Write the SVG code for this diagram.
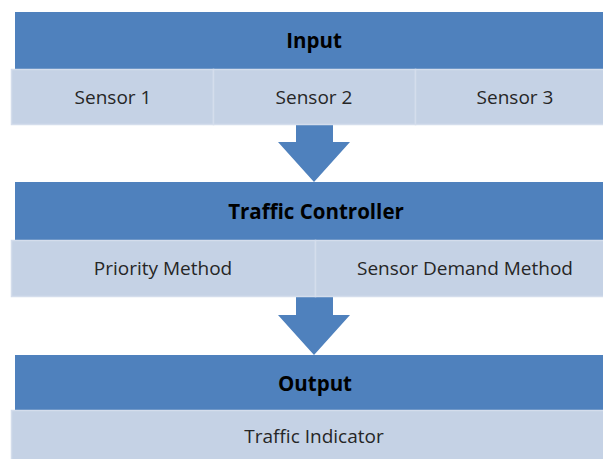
<svg xmlns="http://www.w3.org/2000/svg" width="603" height="459" viewBox="0 0 603 459">
<style>
.hdr{fill:#4F81BD}
.sub{fill:#C5D2E5;stroke:#D4DDEC;stroke-width:1.5}
.arrow{fill:#4F81BD}
.ht{font-family:"Open Sans","Liberation Sans",sans-serif;font-weight:bold;font-size:20.5px;fill:#000;text-anchor:middle}
.st{font-family:"Open Sans","Liberation Sans",sans-serif;font-size:19px;fill:#262626;text-anchor:middle}
</style>
<rect width="603" height="459" fill="#fff"/>
<g id="connectors">
<path class="arrow" d="M296,125 H333 V142 H350 L314,182 L278,142 H296 Z"/>
<path class="arrow" d="M296,297 H333 V315 H350 L314,355 L278,315 H296 Z"/>
</g>
<g id="input">
<rect class="hdr" x="15" y="12" width="588" height="57"/>
<text class="ht" x="314" y="48">Input</text>
</g>
<g id="sensor1"><rect class="sub" x="11.5" y="69.5" width="202" height="55"/><text class="st" x="113" y="104">Sensor 1</text></g>
<g id="sensor2"><rect class="sub" x="213.5" y="69.5" width="202" height="55"/><text class="st" x="314" y="104">Sensor 2</text></g>
<g id="sensor3"><rect class="sub" x="415.5" y="69.5" width="189" height="55"/><text class="st" x="515" y="104">Sensor 3</text></g>
<g id="controller">
<rect class="hdr" x="15" y="182" width="588" height="58"/>
<text class="ht" x="316" y="219">Traffic Controller</text>
</g>
<g id="priority"><rect class="sub" x="11.5" y="240.5" width="304" height="56"/><text class="st" x="163" y="275">Priority Method</text></g>
<g id="demand"><rect class="sub" x="315.5" y="240.5" width="289" height="56"/><text class="st" x="465" y="275">Sensor Demand Method</text></g>
<g id="output">
<rect class="hdr" x="15" y="355" width="588" height="55"/>
<text class="ht" x="315" y="391">Output</text>
</g>
<g id="indicator"><rect class="sub" x="11.5" y="410.5" width="593" height="50"/><text class="st" x="314" y="443">Traffic Indicator</text></g>
</svg>
